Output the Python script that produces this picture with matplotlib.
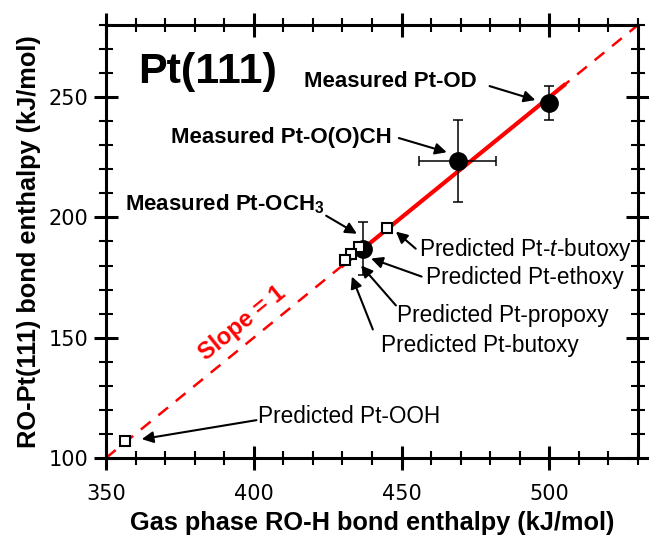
import matplotlib
matplotlib.use("Agg")
import matplotlib.pyplot as plt
from matplotlib.ticker import MultipleLocator

plt.rcParams['font.family'] = ['Liberation Sans', 'DejaVu Sans']
plt.rcParams['mathtext.fontset'] = 'custom'
plt.rcParams['mathtext.rm'] = 'Liberation Sans'
plt.rcParams['mathtext.it'] = 'Liberation Sans:italic'
plt.rcParams['mathtext.bf'] = 'Liberation Sans:bold'

# ---- data (kJ/mol) ----
measured_names = ["Measured Pt-OD", "Measured Pt-O(O)CH", r"Measured Pt-OCH$_\mathbf{3}$"]
measured_x = [500, 469, 437]
measured_y = [247.5, 223.5, 187]
measured_xerr = [0, 13, 0]
measured_yerr = [7, 17, 11]

predicted_names = [r"Predicted Pt-$\it{t}$-butoxy", "Predicted Pt-ethoxy",
                   "Predicted Pt-propoxy", "Predicted Pt-butoxy", "Predicted Pt-OOH"]
predicted_x = [445.2, 435.6, 432.8, 430.9, 356.4]
predicted_y = [195.7, 187.7, 184.9, 182.4, 107.0]

# slope = 1 line: dashed across the whole plot, solid over the data
ref_x = [350, 530]
ref_y = [100, 280]
fit_x = [430, 505]
fit_y = [180, 255]

# label anchor, arrow start, arrow tip
measured_text = [(417, 256.6), (371.9, 233.4), (356.4, 205.4)]
measured_arrow = [((479.8, 254.6), (495.3, 248.8)),
                  ((449.1, 233.0), (465.3, 227.1)),
                  ((424.5, 200.7), (434.9, 193.2))]
predicted_text = [(455.8, 186.6), (458.2, 175.0), (448.4, 159.2), (443.0, 146.8), (401.5, 117.3)]
predicted_arrow = [((454.8, 187.0), (448.1, 194.1)),
                   ((456.8, 175.4), (439.7, 182.9)),
                   ((448.1, 163.4), (436.3, 180.0)),
                   ((440.3, 153.4), (433.2, 175.4)),
                   ((400.9, 115.7), (362.1, 107.8))]

fig = plt.figure(figsize=(6.49, 5.40), dpi=100)
ax = fig.add_axes([0.1633, 0.152, 0.8197, 0.8017])

ax.plot(ref_x, ref_y, color='red', lw=1.8, linestyle=(0, (5, 4)), zorder=2)
ax.plot(fit_x, fit_y, color='red', lw=3, zorder=3)

# measured points with error bars
ax.errorbar(measured_x, measured_y, xerr=measured_xerr, yerr=measured_yerr, fmt='none',
            ecolor='black', elinewidth=1.1, capsize=3.6, capthick=1.1, zorder=4)
ax.plot(measured_x, measured_y, 'o', color='black', ms=12.5, zorder=5)

# predicted points
ax.plot(predicted_x, predicted_y, 's', mfc='white', mec='black', mew=1.5, ms=7.5, zorder=6)

arrow = dict(arrowstyle='-|>', color='black', lw=1.5, mutation_scale=17, shrinkA=0, shrinkB=0)
for name, (tx, ty), (start, tip) in zip(measured_names, measured_text, measured_arrow):
    ax.text(tx, ty, name, fontsize=16, fontweight='bold', ha='left', va='center', zorder=7)
    ax.annotate('', xy=tip, xytext=start, arrowprops=arrow, zorder=7)
for name, (tx, ty), (start, tip) in zip(predicted_names, predicted_text, predicted_arrow):
    ax.text(tx, ty, name, fontsize=16.3, ha='left', va='center', zorder=7)
    ax.annotate('', xy=tip, xytext=start, arrowprops=arrow, zorder=7)

ax.text(360.8, 260.4, "Pt(111)", fontsize=31, fontweight='bold', ha='left', va='center')
ax.text(396.2, 155.9, "Slope = 1", fontsize=17, fontweight='bold', color='red',
        rotation=39, rotation_mode='anchor', ha='center', va='center')

ax.set_xlim(ref_x[0], ref_x[1])
ax.set_ylim(ref_y[0], ref_y[1])
ax.xaxis.set_major_locator(MultipleLocator(50))
ax.xaxis.set_minor_locator(MultipleLocator(10))
ax.yaxis.set_major_locator(MultipleLocator(50))
ax.yaxis.set_minor_locator(MultipleLocator(10))
ax.tick_params(which='both', direction='inout', top=True, right=True)
ax.tick_params(which='major', length=17, width=2.2, labelsize=15)
ax.tick_params(axis='x', which='major', pad=10)
ax.tick_params(axis='y', which='major', pad=4)
ax.tick_params(which='minor', length=9.5, width=1.5)
for lab in ax.get_xticklabels() + ax.get_yticklabels():
    lab.set_family('DejaVu Sans')
for sp in ax.spines.values():
    sp.set_linewidth(2.2)

ax.set_xlabel("Gas phase RO-H bond enthalpy (kJ/mol)", fontsize=18.3, fontweight='bold', labelpad=5)
ax.set_ylabel("RO-Pt(111) bond enthalpy (kJ/mol)", fontsize=18.3, fontweight='bold', labelpad=6)

fig.savefig("out.png", dpi=100)
